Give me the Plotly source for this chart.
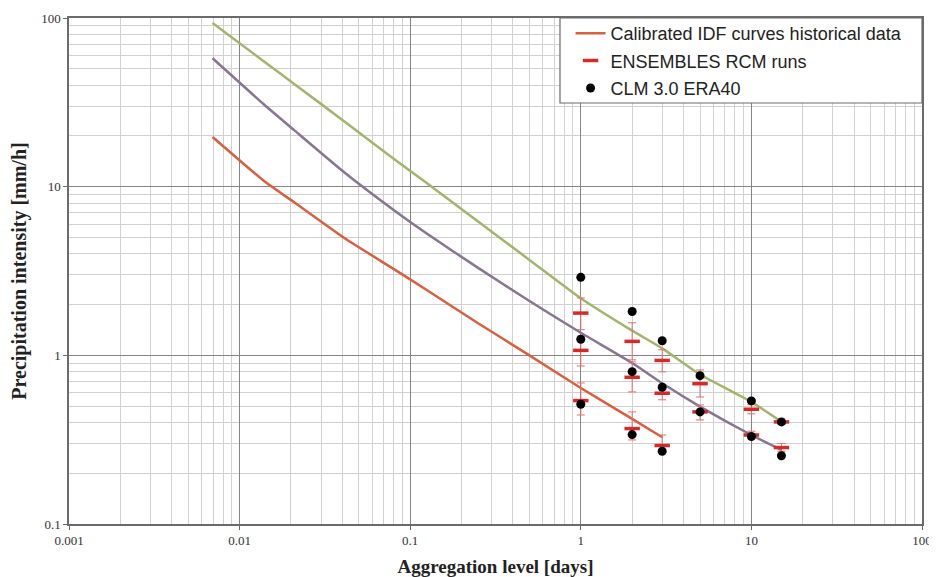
import plotly.graph_objects as go

# Durations (days) at which IDF curves are drawn
dur = [0.00694, 0.0139, 0.0208, 0.0417, 0.0833, 0.125, 0.25, 0.5, 1, 2, 3, 5, 10, 15]
idf_high = [93.4, 55.2, 40.8, 24.1, 14.2, 10.5, 6.21, 3.68, 2.18, 1.40, 1.10, 0.77, 0.53, 0.404]
idf_mid = [57.7, 30.7, 21.7, 12.0, 7.05, 5.27, 3.30, 2.10, 1.36, 0.90, 0.683, 0.497, 0.337, 0.275]
dur_low = [0.00694, 0.0139, 0.0208, 0.0417, 0.0833, 0.125, 0.25, 0.5, 1, 2, 3]
idf_low = [19.7, 10.8, 8.1, 4.91, 3.17, 2.44, 1.55, 1.0, 0.64, 0.42, 0.327]

# ENSEMBLES RCM runs (ensemble value with range)
ens_x = [1, 1, 1, 2, 2, 2, 3, 3, 3, 5, 5, 10, 10, 15, 15]
ens_y = [1.78, 1.07, 0.539, 1.21, 0.741, 0.368, 0.933, 0.596, 0.292, 0.679, 0.462, 0.479, 0.337, 0.403, 0.284]
ens_hi = [2.19, 1.30, 0.686, 1.56, 0.914, 0.462, 1.08, 0.668, 0.337, 0.819, 0.508, 0.51, 0.355, 0.42, 0.30]
ens_lo = [1.42, 0.865, 0.443, 0.94, 0.607, 0.315, 0.798, 0.545, 0.267, 0.566, 0.414, 0.45, 0.32, 0.39, 0.27]

# CLM 3.0 ERA40
clm_x = [1, 1, 1, 2, 2, 2, 3, 3, 3, 5, 5, 10, 10, 15, 15]
clm_y = [2.90, 1.245, 0.513, 1.82, 0.80, 0.339, 1.22, 0.647, 0.270, 0.758, 0.462, 0.537, 0.330, 0.403, 0.254]

x_ticks = [0.001, 0.01, 0.1, 1, 10, 100]
x_ticklabels = ["0.001", "0.01", "0.1", "1", "10", "100"]
y_ticks = [0.1, 1, 10, 100]
y_ticklabels = ["0.1", "1", "10", "100"]

fig = go.Figure()

fig.add_trace(go.Scatter(x=dur, y=idf_high, mode="lines",
                         line=dict(color="#a3b56c", width=2.5, shape="spline", smoothing=0.5),
                         legendgroup="idf", showlegend=False))
fig.add_trace(go.Scatter(x=dur, y=idf_mid, mode="lines",
                         line=dict(color="#86768f", width=2.5, shape="spline", smoothing=0.5),
                         legendgroup="idf", showlegend=False))
fig.add_trace(go.Scatter(x=dur_low, y=idf_low, mode="lines",
                         line=dict(color="#d6603f", width=2.5, shape="spline", smoothing=0.4),
                         name="Calibrated IDF curves historical data", legendgroup="idf", showlegend=True))

err_plus = [h - v for h, v in zip(ens_hi, ens_y)]
err_minus = [v - l for v, l in zip(ens_y, ens_lo)]
fig.add_trace(go.Scatter(x=ens_x, y=ens_y, mode="markers", name="ENSEMBLES RCM runs", legendgroup="ens",
                         marker=dict(symbol="line-ew", size=11, line=dict(color="#d42a2a", width=3.5), color="#d42a2a"),
                         error_y=dict(type="data", array=err_plus, arrayminus=err_minus, symmetric=False,
                                      color="#e07070", thickness=1, width=4)))
fig.add_trace(go.Scatter(x=clm_x, y=clm_y, mode="markers", name="CLM 3.0 ERA40", legendgroup="clm",
                         marker=dict(symbol="circle", size=9, color="#000000")))

axis_common = dict(
    type="log", showline=True, mirror=True, linecolor="#6a6a6a", linewidth=1.5,
    showgrid=True, gridcolor="#858585", gridwidth=1, zeroline=False,
    ticks="outside", ticklen=4, tickcolor="#6a6a6a",
    tickfont=dict(family="Liberation Serif", size=13, color="#333333"),
    minor=dict(dtick="D1", showgrid=True, gridcolor="#d0d0d0", gridwidth=1, ticks=""),
)

fig.update_xaxes(**axis_common, range=[-3, 2], tickvals=x_ticks, ticktext=x_ticklabels,
                 title=dict(text="<b>Aggregation level [days]</b>", standoff=15,
                            font=dict(family="Liberation Serif", size=19, color="#222222")))
fig.update_yaxes(**axis_common, range=[-1, 2], tickvals=y_ticks, ticktext=y_ticklabels,
                 title=dict(text="<b>Precipitation intensity [mm/h]</b>", standoff=14,
                            font=dict(family="Liberation Serif", size=20, color="#222222")))

# legend frame
fig.add_shape(type="rect", xref="paper", yref="paper", x0=0.5756, x1=1.0, y0=0.832, y1=1.0,
              line=dict(color="#6a6a6a", width=1.2), fillcolor="white", layer="above")

fig.update_layout(
    width=929, height=569,
    margin=dict(l=61, r=15, t=10, b=53, autoexpand=False),
    paper_bgcolor="white", plot_bgcolor="white",
    legend=dict(x=0.588, y=1.006, xanchor="left", yanchor="top", bgcolor="rgba(0,0,0,0)",
                borderwidth=0, traceorder="grouped", tracegroupgap=1,
                font=dict(family="Liberation Sans", size=18, color="#222222"),
                itemwidth=30),
    showlegend=True,
)

fig.write_html("out.html")
